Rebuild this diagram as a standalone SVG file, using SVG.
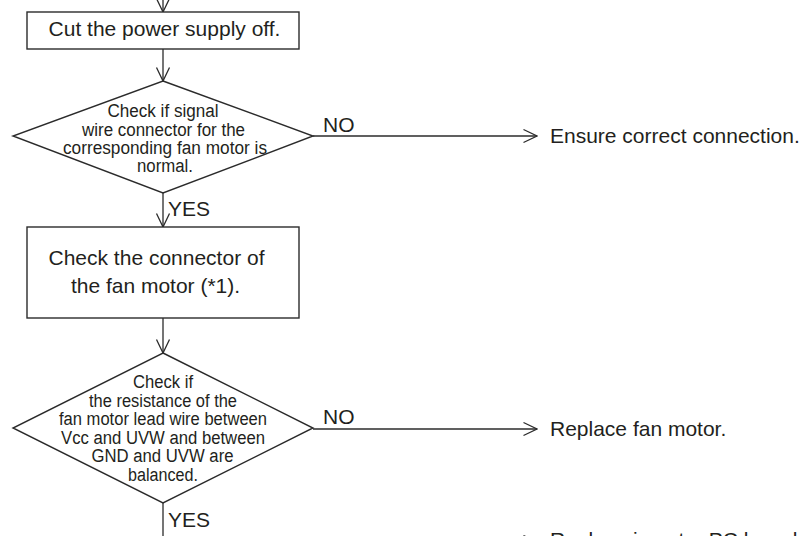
<svg xmlns="http://www.w3.org/2000/svg" width="810" height="536" viewBox="0 0 810 536">
<style>
.shape{fill:#fff;stroke:#2b2b2b;stroke-width:1.4}
.line{fill:none;stroke:#2b2b2b;stroke-width:1.3}
.t{font-family:"Liberation Sans",Arial,sans-serif;fill:#231f20;font-size:21px}
.d{font-family:"Liberation Sans",Arial,sans-serif;fill:#231f20;font-size:18px;text-anchor:middle}
.c{text-anchor:middle}
</style>
<defs>
<marker id="arr" markerUnits="userSpaceOnUse" markerWidth="16" markerHeight="16" viewBox="-15 -8 16 16" refX="0" refY="0" orient="auto">
<path d="M-13.5,-6.5 L0,0 L-13.5,6.5" fill="none" stroke="#2b2b2b" stroke-width="1.3"/>
</marker>
</defs>
<g id="connectors">
<line class="line" x1="163" y1="0" x2="163" y2="12" marker-end="url(#arr)"/>
<line class="line" x1="163" y1="49" x2="163" y2="81" marker-end="url(#arr)"/>
<line class="line" x1="163" y1="193" x2="163" y2="227" marker-end="url(#arr)"/>
<line class="line" x1="313" y1="136" x2="537" y2="136" marker-end="url(#arr)"/>
<line class="line" x1="163" y1="318" x2="163" y2="353" marker-end="url(#arr)"/>
<line class="line" x1="313" y1="429" x2="537" y2="429" marker-end="url(#arr)"/>
<line class="line" x1="163" y1="503" x2="163" y2="540"/>
<line class="line" x1="313" y1="542" x2="537" y2="542" marker-end="url(#arr)"/>
<text class="t" x="168" y="216">YES</text>
<text class="t" x="323" y="132">NO</text>
<text class="t" x="323" y="424">NO</text>
<text class="t" x="168" y="527">YES</text>
</g>
<g id="cut-power">
<rect class="shape" x="27" y="12" width="272" height="37"/>
<text class="t c" x="164.5" y="36">Cut the power supply off.</text>
</g>
<g id="check-signal">
<polygon class="shape" points="163,81 313,136 163,193 13,136"/>
<text class="d" x="163" y="117" textLength="111" lengthAdjust="spacingAndGlyphs">Check if signal</text>
<text class="d" x="163.5" y="136" textLength="163" lengthAdjust="spacingAndGlyphs">wire connector for the</text>
<text class="d" x="165" y="154" textLength="204" lengthAdjust="spacingAndGlyphs">corresponding fan motor is</text>
<text class="d" x="165" y="172" textLength="56" lengthAdjust="spacingAndGlyphs">normal.</text>
</g>
<g id="ensure-connection">
<text class="t" x="550" y="143">Ensure correct connection.</text>
</g>
<g id="check-connector">
<rect class="shape" x="27" y="227" width="272" height="91"/>
<text class="t c" x="156.5" y="265">Check the connector of</text>
<text class="t c" x="155.5" y="293">the fan motor (*1).</text>
</g>
<g id="check-resistance">
<polygon class="shape" points="163,353 313,428 163,503 13,428"/>
<text class="d" x="163" y="388" textLength="60" lengthAdjust="spacingAndGlyphs">Check if</text>
<text class="d" x="163" y="407" textLength="148" lengthAdjust="spacingAndGlyphs">the resistance of the</text>
<text class="d" x="163" y="425" textLength="208" lengthAdjust="spacingAndGlyphs">fan motor lead wire between</text>
<text class="d" x="163" y="444" textLength="204" lengthAdjust="spacingAndGlyphs">Vcc and UVW and between</text>
<text class="d" x="162.5" y="462" textLength="142" lengthAdjust="spacingAndGlyphs">GND and UVW are</text>
<text class="d" x="163" y="481" textLength="70" lengthAdjust="spacingAndGlyphs">balanced.</text>
</g>
<g id="replace-fan">
<text class="t" x="550" y="436">Replace fan motor.</text>
</g>
<g id="replace-board">
<text class="t" x="550" y="547">Replace inverter PC board.</text>
</g>
</svg>
